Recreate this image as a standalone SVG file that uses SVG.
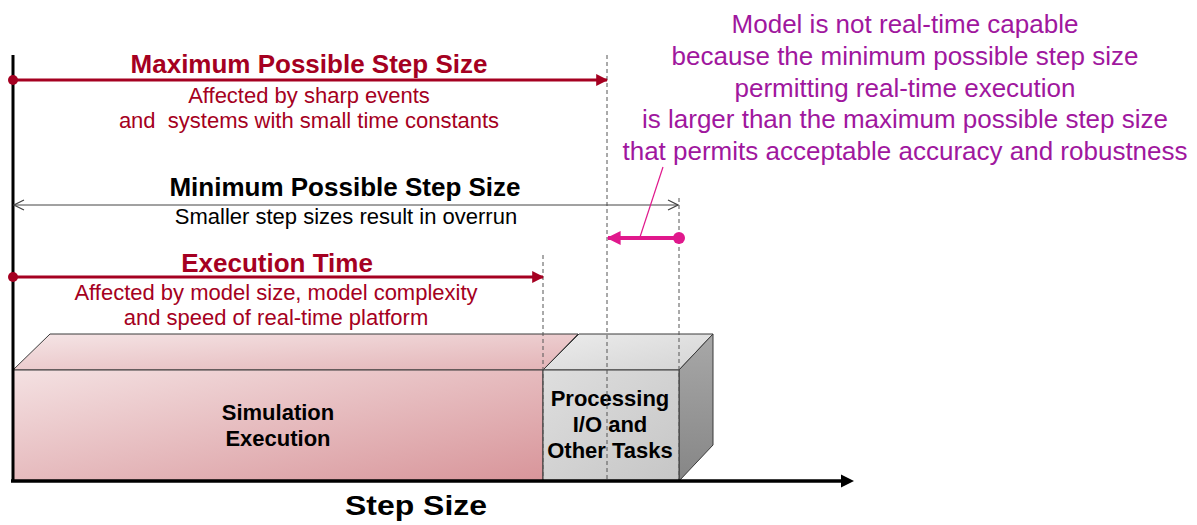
<svg xmlns="http://www.w3.org/2000/svg" width="1197" height="525" viewBox="0 0 1197 525">
<defs>
<style>
.t{font-family:"Liberation Sans",Arial,sans-serif;text-anchor:middle}
.red{fill:#a50021}
.title{font-size:26px;font-weight:bold}
.sub{font-size:22px}
.box{font-size:22px;font-weight:bold;fill:#000}
.mag{font-size:26px;fill:#a0179e}
.dash{stroke:#555;stroke-width:1;stroke-dasharray:4,3;fill:none}
.edge{stroke:#3a3a3a;stroke-width:1}
</style>
<linearGradient id="pinkFront" x1="0" y1="0" x2="1" y2="1">
<stop offset="0" stop-color="#f4e1e2"/><stop offset="1" stop-color="#d8959a"/>
</linearGradient>
<linearGradient id="pinkTop" x1="0" y1="0" x2="1" y2="1">
<stop offset="0" stop-color="#f5e5e6"/><stop offset="1" stop-color="#e3b3b6"/>
</linearGradient>
<linearGradient id="grayFront" x1="0" y1="0" x2="1" y2="1">
<stop offset="0" stop-color="#dedede"/><stop offset="1" stop-color="#c6c6c6"/>
</linearGradient>
<linearGradient id="grayTop" x1="0" y1="0" x2="1" y2="1">
<stop offset="0" stop-color="#ececec"/><stop offset="1" stop-color="#d4d4d4"/>
</linearGradient>
<linearGradient id="graySide" x1="0" y1="0" x2="0" y2="1">
<stop offset="0" stop-color="#a8a8a8"/><stop offset="1" stop-color="#868686"/>
</linearGradient>
<marker id="redHead" viewBox="0 0 10 10" refX="9" refY="5" markerWidth="4" markerHeight="4" orient="auto" markerUnits="strokeWidth">
<path d="M0,0 L10,5 L0,10 Z" fill="#a50021"/>
</marker>
<marker id="magHead" viewBox="0 0 10 10" refX="9" refY="5" markerWidth="3.5" markerHeight="3.5" orient="auto" markerUnits="strokeWidth">
<path d="M0,0 L10,5 L0,10 Z" fill="#e0188c"/>
</marker>
<marker id="openHead" viewBox="0 0 12 12" refX="11" refY="6" markerWidth="12" markerHeight="12" orient="auto-start-reverse" markerUnits="userSpaceOnUse">
<path d="M1,1 L11,6 L1,11" fill="none" stroke="#444" stroke-width="1.2"/>
</marker>
</defs>
<rect width="1197" height="525" fill="#fff"/>

<g id="sim-execution">
<polygon points="13,370 50,334 578,334 543,370" fill="url(#pinkTop)" class="edge"/>
<rect x="13" y="370" width="530" height="111" fill="url(#pinkFront)" class="edge"/>
<text class="t box" x="278" y="420">Simulation</text>
<text class="t box" x="278" y="446">Execution</text>
</g>

<g id="processing-io">
<polygon points="543,370 579,334 713,334 679,370" fill="url(#grayTop)" class="edge"/>
<polygon points="679,370 713,334 713,445 679,481" fill="url(#graySide)" class="edge"/>
<rect x="543" y="370" width="136" height="111" fill="url(#grayFront)" class="edge"/>
<text class="t box" x="610" y="406">Processing</text>
<text class="t box" x="610" y="432">I/O and</text>
<text class="t box" x="610" y="458">Other Tasks</text>
</g>

<g id="connectors">
<line class="dash" x1="607" y1="55" x2="607" y2="481"/>
<line class="dash" x1="543" y1="255" x2="543" y2="481"/>
<line class="dash" x1="679" y1="198" x2="679" y2="481"/>
<line x1="13" y1="55" x2="13" y2="482" stroke="#000" stroke-width="3"/>
<line x1="11" y1="481" x2="843" y2="481" stroke="#000" stroke-width="3.5"/>
<polygon points="841,474.5 854,481 841,487.5" fill="#000"/>
<line x1="13" y1="80" x2="607" y2="80" stroke="#a50021" stroke-width="3" marker-end="url(#redHead)"/>
<circle cx="13" cy="80" r="5" fill="#a50021"/>
<line x1="13" y1="277" x2="543" y2="277" stroke="#a50021" stroke-width="3" marker-end="url(#redHead)"/>
<circle cx="13" cy="277" r="5" fill="#a50021"/>
<line x1="14" y1="205" x2="678" y2="205" stroke="#444" stroke-width="1" marker-start="url(#openHead)" marker-end="url(#openHead)"/>
<line x1="679" y1="238" x2="608" y2="238" stroke="#e0188c" stroke-width="4" marker-end="url(#magHead)"/>
<circle cx="679" cy="238" r="6" fill="#e0188c"/>
<line x1="640" y1="237" x2="663" y2="167" stroke="#e0188c" stroke-width="1.2"/>
</g>

<g id="max-step">
<text class="t red title" x="309" y="73">Maximum Possible Step Size</text>
<text class="t red sub" x="309" y="103">Affected by sharp events</text>
<text class="t red sub" x="309" y="128" xml:space="preserve">and  systems with small time constants</text>
</g>

<g id="min-step">
<text class="t title" x="345" y="196" fill="#000">Minimum Possible Step Size</text>
<text class="t sub" x="346" y="224" fill="#000">Smaller step sizes result in overrun</text>
</g>

<g id="exec-time">
<text class="t red title" x="277" y="272">Execution Time</text>
<text class="t red sub" x="276" y="300">Affected by model size, model complexity</text>
<text class="t red sub" x="276" y="325">and speed of real-time platform</text>
</g>

<g id="note">
<text class="t mag" x="905" y="33">Model is not real-time capable</text>
<text class="t mag" x="905" y="65">because the minimum possible step size</text>
<text class="t mag" x="905" y="97">permitting real-time execution</text>
<text class="t mag" x="905" y="128">is larger than the maximum possible step size</text>
<text class="t mag" x="905" y="160">that permits acceptable accuracy and robustness</text>
</g>

<g id="axis-label">
<text class="t" x="416" y="515" font-size="28" font-weight="bold" fill="#000" textLength="142" lengthAdjust="spacingAndGlyphs">Step Size</text>
</g>
</svg>
